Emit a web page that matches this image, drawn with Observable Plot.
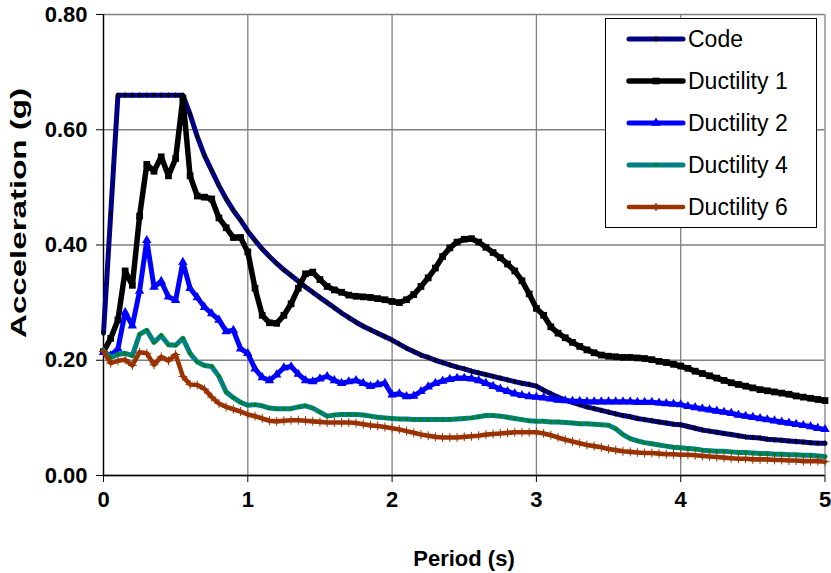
<!DOCTYPE html>
<html>
<head>
<meta charset="utf-8">
<script src="https://cdn.jsdelivr.net/npm/d3@7"></script>
<script src="https://cdn.jsdelivr.net/npm/@observablehq/plot@0.6"></script>
<style>
  html, body { margin: 0; padding: 0; background: #fff; }
  #chart { width: 831px; height: 573px; }
</style>
</head>
<body>
<div id="chart"></div>
<script>
// Response spectra: design code spectrum and inelastic spectra for several ductilities.
// Periods sampled every 0.05 s from 0 to 5 s.
const periods = d3.range(0, 101).map(i => +(i * 0.05).toFixed(2));

const code = [
  0.247, 0.454, 0.66, 0.66, 0.66, 0.66, 0.66, 0.66, 0.66, 0.66,
  0.66, 0.66, 0.627, 0.588, 0.555, 0.529, 0.503, 0.480, 0.460, 0.443,
  0.424, 0.408, 0.393, 0.380, 0.368, 0.357, 0.347, 0.337, 0.327, 0.318,
  0.309, 0.300, 0.291, 0.282, 0.274, 0.266, 0.259, 0.253, 0.247, 0.241,
  0.235, 0.228, 0.221, 0.215, 0.209, 0.205, 0.200, 0.196, 0.192, 0.188,
  0.185, 0.181, 0.178, 0.175, 0.172, 0.169, 0.166, 0.163, 0.160, 0.158,
  0.155, 0.148, 0.142, 0.136, 0.131, 0.127, 0.123, 0.119, 0.116, 0.113,
  0.110, 0.107, 0.104, 0.102, 0.099, 0.097, 0.095, 0.093, 0.091, 0.089,
  0.088, 0.085, 0.082, 0.079, 0.077, 0.075, 0.073, 0.071, 0.069, 0.067,
  0.066, 0.065, 0.063, 0.062, 0.061, 0.060, 0.059, 0.058, 0.057, 0.056,
  0.056
];

const ductility1 = [
  0.215, 0.238, 0.270, 0.355, 0.330, 0.450, 0.540, 0.528, 0.553, 0.520,
  0.550, 0.655, 0.520, 0.485, 0.483, 0.480, 0.447, 0.430, 0.413, 0.413,
  0.388, 0.325, 0.278, 0.265, 0.264, 0.278, 0.298, 0.325, 0.350, 0.353,
  0.340, 0.328, 0.322, 0.318, 0.313, 0.311, 0.310, 0.309, 0.307, 0.305,
  0.302, 0.300, 0.305, 0.314, 0.328, 0.343, 0.360, 0.380, 0.395, 0.405,
  0.410, 0.411, 0.405, 0.396, 0.387, 0.378, 0.367, 0.355, 0.338, 0.315,
  0.290, 0.278, 0.258, 0.247, 0.239, 0.231, 0.224, 0.218, 0.213, 0.209,
  0.207, 0.206, 0.205, 0.205, 0.204, 0.203, 0.201, 0.198, 0.196, 0.193,
  0.190, 0.186, 0.181, 0.177, 0.173, 0.169, 0.165, 0.161, 0.158, 0.155,
  0.152, 0.149, 0.147, 0.145, 0.143, 0.141, 0.138, 0.136, 0.134, 0.132,
  0.130
];

const ductility2 = [
  0.214, 0.208, 0.220, 0.283, 0.260, 0.320, 0.408, 0.327, 0.337, 0.310,
  0.304, 0.370, 0.325, 0.309, 0.292, 0.281, 0.270, 0.250, 0.252, 0.220,
  0.212, 0.185, 0.170, 0.165, 0.175, 0.187, 0.189, 0.176, 0.165, 0.163,
  0.168, 0.172, 0.165, 0.160, 0.163, 0.165, 0.160, 0.155, 0.158, 0.160,
  0.140, 0.142, 0.137, 0.138, 0.146, 0.154, 0.160, 0.164, 0.167, 0.169,
  0.169, 0.168, 0.165, 0.160, 0.155, 0.150, 0.146, 0.142, 0.139, 0.137,
  0.136, 0.135, 0.133, 0.131, 0.130, 0.129, 0.129, 0.128, 0.128, 0.128,
  0.128, 0.128, 0.128, 0.128, 0.127, 0.127, 0.127, 0.126, 0.125, 0.124,
  0.123, 0.120, 0.118, 0.116, 0.114, 0.112, 0.110, 0.108, 0.105, 0.103,
  0.101, 0.099, 0.097, 0.095, 0.093, 0.091, 0.089, 0.087, 0.085, 0.082,
  0.080
];

const ductility4 = [
  0.217, 0.205, 0.210, 0.212, 0.208, 0.245, 0.252, 0.231, 0.243, 0.227,
  0.226, 0.238, 0.212, 0.197, 0.191, 0.189, 0.172, 0.145, 0.135, 0.127,
  0.122, 0.123, 0.121, 0.117, 0.116, 0.116, 0.116, 0.119, 0.121, 0.117,
  0.110, 0.103, 0.105, 0.106, 0.106, 0.106, 0.105, 0.103, 0.101, 0.100,
  0.099, 0.098, 0.098, 0.097, 0.097, 0.097, 0.097, 0.097, 0.097, 0.098,
  0.099, 0.100, 0.102, 0.104, 0.104, 0.103, 0.101, 0.099, 0.097, 0.095,
  0.094, 0.094, 0.093, 0.093, 0.092, 0.091, 0.090, 0.090, 0.089, 0.088,
  0.087, 0.081, 0.071, 0.064, 0.060, 0.057, 0.055, 0.053, 0.051, 0.049,
  0.048, 0.047, 0.046, 0.044, 0.043, 0.042, 0.042, 0.041, 0.040, 0.040,
  0.039, 0.038, 0.038, 0.037, 0.037, 0.036, 0.036, 0.035, 0.035, 0.034,
  0.033
];

const ductility6 = [
  0.215, 0.195, 0.199, 0.201, 0.191, 0.214, 0.212, 0.192, 0.206, 0.199,
  0.210, 0.172, 0.158, 0.157, 0.150, 0.136, 0.125, 0.119, 0.115, 0.111,
  0.106, 0.103, 0.099, 0.095, 0.094, 0.095, 0.096, 0.096, 0.095, 0.094,
  0.093, 0.092, 0.092, 0.092, 0.092, 0.091, 0.089, 0.087, 0.086, 0.084,
  0.082, 0.080, 0.077, 0.074, 0.071, 0.069, 0.067, 0.066, 0.066, 0.066,
  0.067, 0.068, 0.069, 0.071, 0.072, 0.073, 0.074, 0.075, 0.075, 0.075,
  0.075, 0.073, 0.070, 0.066, 0.062, 0.059, 0.056, 0.053, 0.051, 0.049,
  0.046, 0.044, 0.042, 0.041, 0.040, 0.039, 0.039, 0.038, 0.037, 0.037,
  0.036, 0.036, 0.035, 0.034, 0.033, 0.032, 0.031, 0.030, 0.029, 0.029,
  0.028, 0.028, 0.028, 0.027, 0.027, 0.026, 0.026, 0.025, 0.025, 0.025,
  0.024
];

const seriesNames = ["Code", "Ductility 1", "Ductility 2", "Ductility 4", "Ductility 6"];
const seriesValues = [code, ductility1, ductility2, ductility4, ductility6];

const xTicks = [0, 1, 2, 3, 4, 5];
const yTicks = [0, 0.2, 0.4, 0.6, 0.8];
const xLabel = "Period (s)";
const yLabel = "Acceleration (g)";

// Line and marker styling per series
const styles = [
  {line: "#000080", width: 5, symbol: "diamond", r: 1.9, fill: "#000000", stroke: "none"},
  {line: "#000000", width: 5.5, symbol: "square", r: 3.8, fill: "#000000", stroke: "none"},
  {line: "#0000ff", width: 5, symbol: "triangle", r: 3.5, fill: "#0000ff", stroke: "none"},
  {line: "#008080", width: 5, symbol: "square", r: 1.6, fill: "#008000", stroke: "none"},
  {line: "#993300", width: 4.6, symbol: "plus", r: 3, fill: "none", stroke: "#993300"}
];

const series = seriesNames.map((name, k) => ({
  name,
  style: styles[k],
  data: periods.map((t, i) => ({period: t, value: seriesValues[k][i]}))
}));

const FONT = "'Liberation Sans', Arial, Helvetica, sans-serif";

const marks = [
  Plot.gridY(yTicks, {stroke: "#808080", strokeOpacity: 1, strokeWidth: 1.3}),
  Plot.gridX(xTicks, {stroke: "#808080", strokeOpacity: 1, strokeWidth: 1.3}),
  Plot.ruleX([0], {stroke: "#000", strokeWidth: 1.3}),
  Plot.ruleY([0], {stroke: "#000", strokeWidth: 1.3}),
  Plot.axisX({ticks: xTicks, tickSize: 7, tickPadding: 9, tickFormat: d => String(d),
    fontSize: 22, fontWeight: "bold", label: null, stroke: "#000"}),
  Plot.axisY({ticks: yTicks, tickSize: 7, tickPadding: 9, tickFormat: d3.format(".2f"),
    fontSize: 22, fontWeight: "bold", label: null, stroke: "#000"})
];

for (const s of series) {
  marks.push(Plot.line(s.data, {x: "period", y: "value", stroke: s.style.line,
    strokeWidth: s.style.width, strokeLinejoin: "round", strokeLinecap: "round"}));
  marks.push(Plot.dot(s.data, {x: "period", y: "value", symbol: s.style.symbol, r: s.style.r,
    fill: s.style.fill, stroke: s.style.stroke, strokeWidth: 1}));
}

const plot = Plot.plot({
  width: 831,
  height: 573,
  marginLeft: 103,
  marginRight: 6.5,
  marginTop: 14,
  marginBottom: 98,
  x: {domain: [0, 5]},
  y: {domain: [0, 0.8]},
  style: {fontFamily: FONT, color: "#000", background: "#fff", overflow: "visible"},
  marks
});

const svg = d3.select(plot);

// Axis titles
svg.append("text")
  .attr("x", 464).attr("y", 566)
  .attr("text-anchor", "middle").attr("font-family", FONT)
  .attr("font-size", 22).attr("font-weight", "bold").attr("fill", "#000")
  .text(xLabel);
svg.append("text")
  .attr("transform", "translate(26,213) rotate(-90)")
  .attr("text-anchor", "middle").attr("font-family", FONT)
  .attr("font-size", 22).attr("font-weight", "bold").attr("fill", "#000")
  .attr("textLength", 250).attr("lengthAdjust", "spacingAndGlyphs")
  .text(yLabel);

// Legend box inside the plot frame, top right
const legend = svg.append("g").attr("font-family", FONT).attr("text-anchor", "start");
legend.append("rect")
  .attr("x", 605.5).attr("y", 18.5).attr("width", 211).attr("height", 209)
  .attr("fill", "#fff").attr("stroke", "#000").attr("stroke-width", 1);
series.forEach((s, i) => {
  const cy = 39 + 42 * i;
  const g = legend.append("g");
  g.append("line").attr("x1", 629).attr("x2", 683).attr("y1", cy).attr("y2", cy)
    .attr("stroke", s.style.line).attr("stroke-width", s.style.width).attr("stroke-linecap", "round");
  const sym = {diamond: d3.symbolDiamond, square: d3.symbolSquare, triangle: d3.symbolTriangle, plus: d3.symbolCross}[s.style.symbol];
  g.append("path").attr("transform", `translate(656,${cy})`)
    .attr("d", d3.symbol(sym, Math.PI * s.style.r * s.style.r)())
    .attr("fill", s.style.fill === "none" ? s.style.stroke : s.style.fill);
  g.append("text").attr("x", 688).attr("y", cy).attr("dy", "0.35em")
    .attr("font-size", 23).attr("fill", "#000").text(s.name);
});

document.getElementById("chart").appendChild(plot);
</script>
</body>
</html>
